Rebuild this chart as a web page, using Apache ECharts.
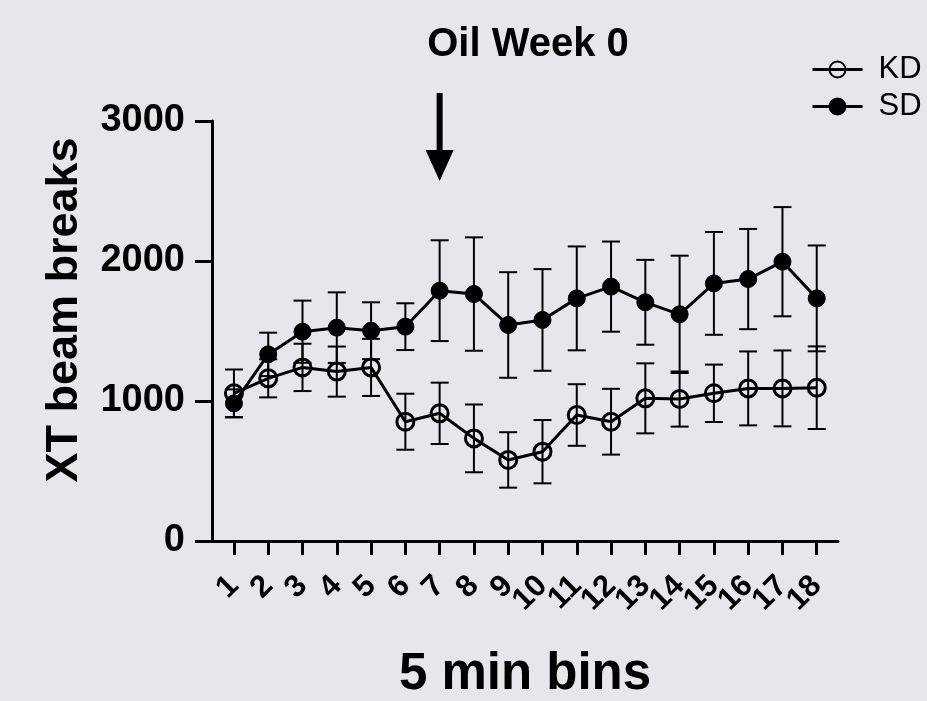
<!DOCTYPE html>
<html>
<head>
<meta charset="utf-8">
<script src="https://cdn.jsdelivr.net/npm/echarts@6/dist/echarts.min.js"></script>
<style>
html,body{margin:0;padding:0;background:#e6e6eb;}
#chart{width:927px;height:701px;}
</style>
</head>
<body>
<div id="chart"></div>
<script>
const categories = [1,2,3,4,5,6,7,8,9,10,11,12,13,14,15,16,17,18];
const kdMean = [1055,1162,1240,1210,1240,852,912,733,579,638,900,852,1019,1014,1055,1090,1090,1095];
const kdErr  = [170,136,169,179,204,200,219,242,198,226,220,235,250,197,205,264,271,295];
const sdMean = [983,1333,1495,1524,1502,1531,1788,1764,1543,1579,1733,1817,1705,1619,1840,1871,1995,1733];
const sdErr  = [100,155,222,252,203,167,360,405,377,363,371,322,303,419,367,358,390,378];
const yTicks = [0,1000,2000,3000];
const arrowBin = 7;
const xMin = 0.36, xMax = 18.62;

const FONT = 'Liberation Sans, Arial, Helvetica, sans-serif';

function errData(mean, err){
  return categories.map((c,i)=>[c, mean[i]-err[i], mean[i]+err[i]]);
}
function renderErr(params, api){
  const x = api.value(0);
  const lo = api.coord([x, api.value(1)]);
  const hi = api.coord([x, api.value(2)]);
  const hw = 9;
  const st = {stroke:'#000', lineWidth:2};
  return {type:'group', children:[
    {type:'line', shape:{x1:lo[0],y1:lo[1],x2:hi[0],y2:hi[1]}, style:st},
    {type:'line', shape:{x1:lo[0]-hw,y1:lo[1],x2:lo[0]+hw,y2:lo[1]}, style:st},
    {type:'line', shape:{x1:hi[0]-hw,y1:hi[1],x2:hi[0]+hw,y2:hi[1]}, style:st}
  ]};
}

const chart = echarts.init(document.getElementById('chart'));
const option = {
  backgroundColor:'#e6e6eb',
  animation:false,
  title:{
    text:'Oil Week 0', left:523, top:20, textAlign:'center',
    textStyle:{fontFamily:FONT, fontWeight:'bold', fontSize:40, color:'#000'}
  },
  legend:{
    orient:'vertical', left:806, top:49, itemWidth:50, itemHeight:20, itemGap:6,
    data:['KD','SD'],
    lineStyle:{width:3, color:'#000'},
    textStyle:{fontFamily:FONT, fontSize:31, color:'#000', padding:[0,0,0,11]}
  },
  grid:{left:212, right:89, top:121, bottom:160, containLabel:false, outerBoundsMode:'none'},
  xAxis:{
    type:'value', min:xMin, max:xMax,
    name:'5 min bins', nameLocation:'middle', nameGap:108,
    nameTextStyle:{fontFamily:FONT, fontWeight:'bold', fontSize:51, color:'#000'},
    axisLine:{show:true, lineStyle:{color:'#000', width:3}},
    axisTick:{show:true, customValues:categories, length:14, lineStyle:{color:'#000', width:3}},
    axisLabel:{customValues:[xMin].concat(categories, [xMax]), rotate:45, margin:40, hideOverlap:false,
      formatter:v=>categories.includes(v)?String(v):'',
      fontFamily:FONT, fontWeight:'bold', fontSize:31, color:'#000'},
    splitLine:{show:false}
  },
  yAxis:{
    type:'value', min:0, max:3000, interval:1000,
    name:'XT beam breaks', nameLocation:'middle', nameGap:125,
    nameTextStyle:{fontFamily:FONT, fontWeight:'bold', fontSize:45, color:'#000', padding:[0,0,0,42]},
    axisLine:{show:true, lineStyle:{color:'#000', width:3}},
    axisTick:{show:true, length:17, lineStyle:{color:'#000', width:3}},
    axisLabel:{margin:27, fontFamily:FONT, fontWeight:'bold', fontSize:38, color:'#000',
      formatter:v=>yTicks.includes(v)?String(v):''},
    splitLine:{show:false}
  },
  series:[
    {type:'custom', name:'KDerr', renderItem:renderErr, data:errData(kdMean,kdErr), z:1, silent:true, encode:{x:0,y:[1,2]}},
    {type:'custom', name:'SDerr', renderItem:renderErr, data:errData(sdMean,sdErr), z:1, silent:true, encode:{x:0,y:[1,2]}},
    {type:'line', name:'KD', data:categories.map((c,i)=>[c,kdMean[i]]), z:3,
      symbol:'circle', symbolSize:17,
      lineStyle:{color:'#000', width:3},
      itemStyle:{color:'rgba(0,0,0,0)', borderColor:'#000', borderWidth:3}},
    {type:'line', name:'SD', data:categories.map((c,i)=>[c,sdMean[i]]), z:3,
      symbol:'circle', symbolSize:17,
      lineStyle:{color:'#000', width:3},
      itemStyle:{color:'#000', borderColor:'#000', borderWidth:1}}
  ]
};
chart.setOption(option);
const ax = chart.convertToPixel({xAxisIndex:0}, arrowBin);
chart.setOption({graphic:[
  {type:'rect', shape:{x:ax-3, y:93, width:6, height:60}, style:{fill:'#000'}},
  {type:'polygon', shape:{points:[[ax-14,150],[ax+14,150],[ax,181]]}, style:{fill:'#000'}}
]});
</script>
</body>
</html>
